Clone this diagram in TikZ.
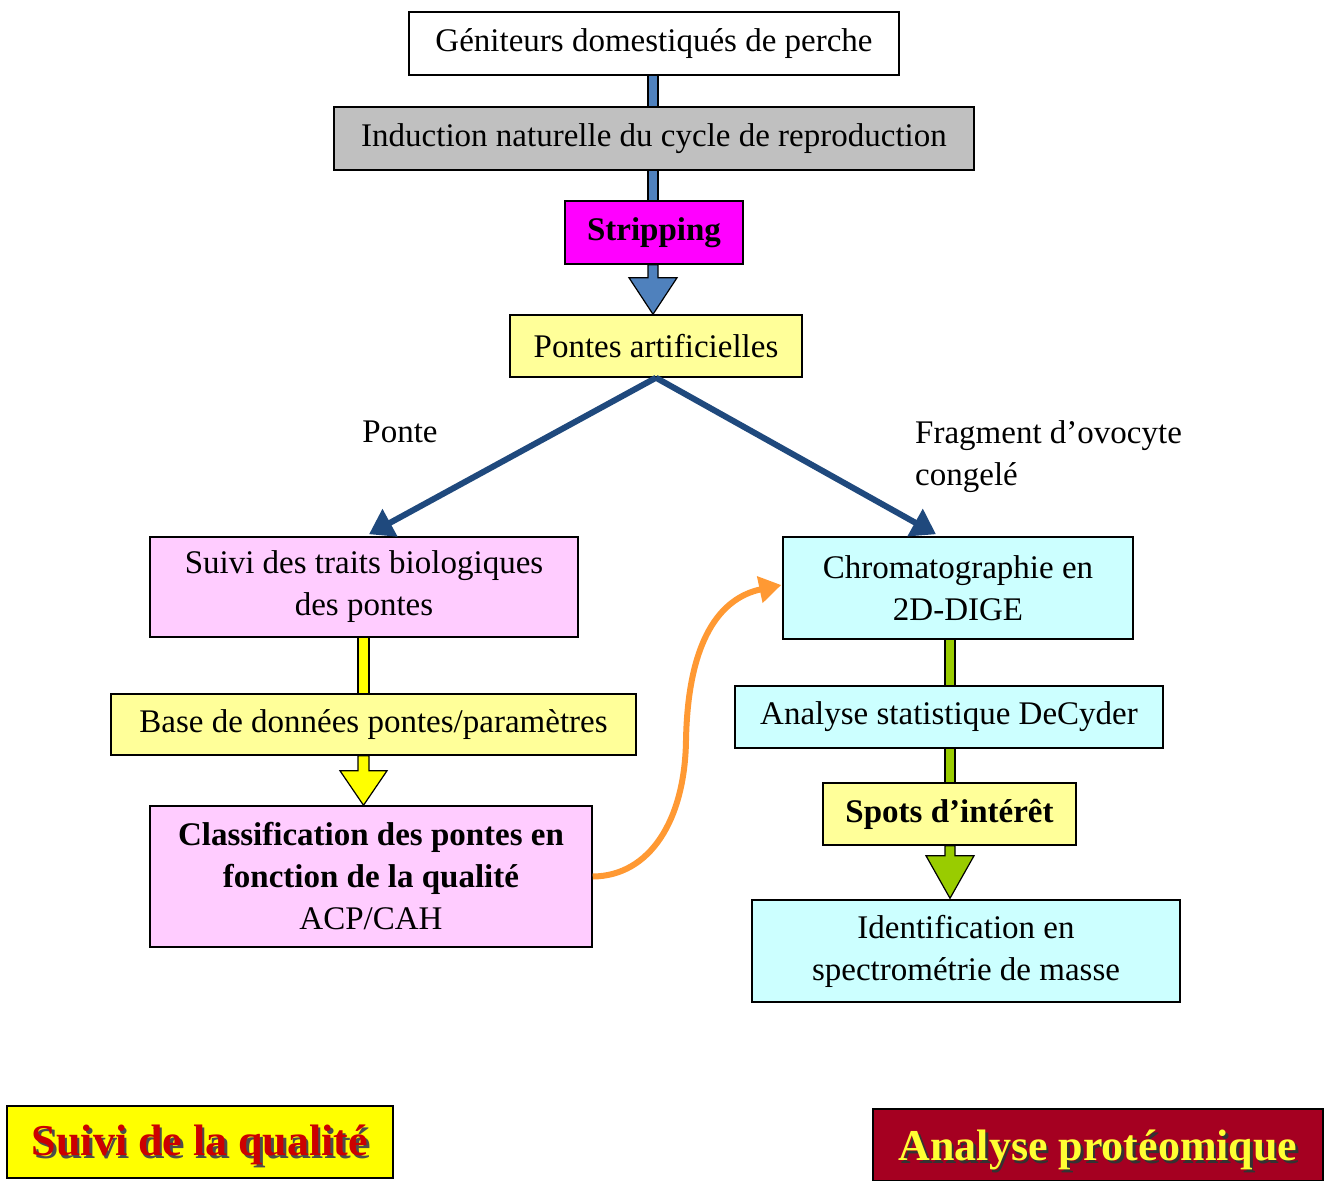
\documentclass[tikz,border=0pt]{standalone}
\usepackage{fontspec}
\setmainfont{Liberation Serif}
\usetikzlibrary{arrows.meta,calc}
\definecolor{pinkbox}{HTML}{FFCCFF}
\definecolor{yelbox}{HTML}{FFFF99}
\definecolor{cyanbox}{HTML}{CCFFFF}
\definecolor{graybox}{HTML}{C0C0C0}
\definecolor{magbox}{HTML}{FF00FF}
\definecolor{bluesh}{HTML}{4F81BD}
\definecolor{navyar}{HTML}{1F497D}
\definecolor{yelar}{HTML}{FFFF00}
\definecolor{greenar}{HTML}{99CC00}
\definecolor{orangear}{HTML}{FF9933}
\definecolor{redtxt}{HTML}{CC0000}
\definecolor{darkred}{HTML}{A50021}
\definecolor{yeltxt}{HTML}{FFFF33}
\begin{document}
\begin{tikzpicture}[x=1pt,y=-1pt,
  box/.style={draw=black, line width=1.5pt, inner sep=0pt, align=center,
    font=\fontsize{33}{42}\selectfont},
  lbl/.style={inner sep=0pt, align=left, font=\fontsize{33}{42}\selectfont},
  shaft/.style={draw=black, line width=1.2pt, line join=miter},
  diag/.style={draw=navyar, line width=6pt, -{Triangle[length=24pt,width=30pt]}},
  curvar/.style={draw=orangear, line width=6pt, -{Triangle[length=22pt,width=26pt]}},
  bigtxt/.style={inner sep=0pt, font=\fontsize{44}{50}\selectfont\bfseries}]
\useasboundingbox (0,0) rectangle (1324,1180);
\fill[white] (0,0) rectangle (1324,1180);

% boxes
\node[box, fill=white, minimum width=490pt, minimum height=63pt] (gen) at (654,43.5) {Géniteurs domestiqués de perche};
\node[box, fill=graybox, minimum width=640pt, minimum height=63pt] (ind) at (654,138.5) {Induction naturelle du cycle de reproduction};
\node[box, fill=magbox, minimum width=178pt, minimum height=63pt, font=\fontsize{33}{42}\selectfont\bfseries] (strip) at (654,232.5) {Stripping};
\node[box, fill=yelbox, minimum width=292pt, minimum height=62pt] (pont) at (656,346) {Pontes artificielles};
\node[box, fill=pinkbox, minimum width=428pt, minimum height=100pt] (suivi) at (364,587) {Suivi des traits biologiques\\des pontes};
\node[box, fill=yelbox, minimum width=525pt, minimum height=61pt] (base) at (373.5,724.5) {Base de données pontes/paramètres};
\node[box, fill=pinkbox, minimum width=442pt, minimum height=141pt] (classif) at (371,876.5) {\textbf{Classification des pontes en}\\\textbf{fonction de la qualité}\\ACP/CAH};
\node[box, fill=cyanbox, minimum width=350pt, minimum height=102pt] (chrom) at (958,588) {Chromatographie en\\2D-DIGE};
\node[box, fill=cyanbox, minimum width=428pt, minimum height=62pt] (stat) at (949,717) {Analyse statistique DeCyder};
\node[box, fill=yelbox, minimum width=253pt, minimum height=62pt, font=\fontsize{33}{42}\selectfont\bfseries] (spots) at (949.5,814) {Spots d’intérêt};
\node[box, fill=cyanbox, minimum width=428pt, minimum height=102pt] (ident) at (966,951) {Identification en\\spectrométrie de masse};

% labels
\node[lbl] (ponte) at (400,432) {Ponte};
\node[lbl, anchor=west] (frag) at (915,457) {Fragment d’ovocyte\\congelé};

% bottom titles
\node[box, fill=yelar, minimum width=386pt, minimum height=72pt] (qual) at (200,1142) {};
\node[bigtxt, text=black!70] (qualsh) at (202.5,1147.5) {Suivi de la qualité};
\node[bigtxt, text=redtxt] (qualtx) at (200,1145) {Suivi de la qualité};
\node[box, fill=darkred, minimum width=450pt, minimum height=72pt] (prot) at (1098,1145) {};
\node[bigtxt, text=black!80] (protsh) at (1100.5,1152.5) {Analyse protéomique};
\node[bigtxt, text=yeltxt] (prottx) at (1098,1150) {Analyse protéomique};

% column coordinates
\coordinate (bx) at (653,0);
\coordinate (yx) at (363.5,0);
\coordinate (gx) at (950,0);

% blue block arrows
\draw[shaft, fill=bluesh] ($(bx|-gen.south)+(-5,0)$) rectangle ($(bx|-ind.north)+(5,0)$);
\draw[shaft, fill=bluesh] ($(bx|-ind.south)+(-5,0)$) rectangle ($(bx|-strip.north)+(5,0)$);
\draw[shaft, fill=bluesh] ($(bx|-strip.south)+(-5,0)$) -- ($(bx|-strip.south)+(-5,13)$) -- ($(bx|-strip.south)+(-24,13)$)
  -- (bx|-pont.north) -- ($(bx|-strip.south)+(24,13)$) -- ($(bx|-strip.south)+(5,13)$) -- ($(bx|-strip.south)+(5,0)$) -- cycle;

% yellow block arrows
\draw[shaft, fill=yelar] ($(yx|-suivi.south)+(-5.5,0)$) rectangle ($(yx|-base.north)+(5.5,0)$);
\draw[shaft, fill=yelar] ($(yx|-base.south)+(-5.5,0)$) -- ($(yx|-base.south)+(-5.5,15)$) -- ($(yx|-base.south)+(-23.5,15)$)
  -- (yx|-classif.north) -- ($(yx|-base.south)+(23.5,15)$) -- ($(yx|-base.south)+(5.5,15)$) -- ($(yx|-base.south)+(5.5,0)$) -- cycle;

% green block arrows
\draw[shaft, fill=greenar] ($(gx|-chrom.south)+(-5,0)$) rectangle ($(gx|-stat.north)+(5,0)$);
\draw[shaft, fill=greenar] ($(gx|-stat.south)+(-5,0)$) rectangle ($(gx|-spots.north)+(5,0)$);
\draw[shaft, fill=greenar] ($(gx|-spots.south)+(-5,0)$) -- ($(gx|-spots.south)+(-5,10)$) -- ($(gx|-spots.south)+(-24,10)$)
  -- ($(gx|-ident.north)+(0,-1)$) -- ($(gx|-spots.south)+(24,10)$) -- ($(gx|-spots.south)+(5,10)$) -- ($(gx|-spots.south)+(5,0)$) -- cycle;

% diagonal arrows
\draw[diag] (pont.south) -- ($(suivi.north)+(5,-2)$);
\draw[diag] (pont.south) -- ($(chrom.north)+(-22,-2)$);

% orange curved arrow
\draw[curvar] (classif.east) .. controls (650,876) and (685,820) .. (686,740)
  .. controls (688,640) and (720,598) .. ($(chrom.west)+(-1,-3)$);
\end{tikzpicture}
\end{document}
